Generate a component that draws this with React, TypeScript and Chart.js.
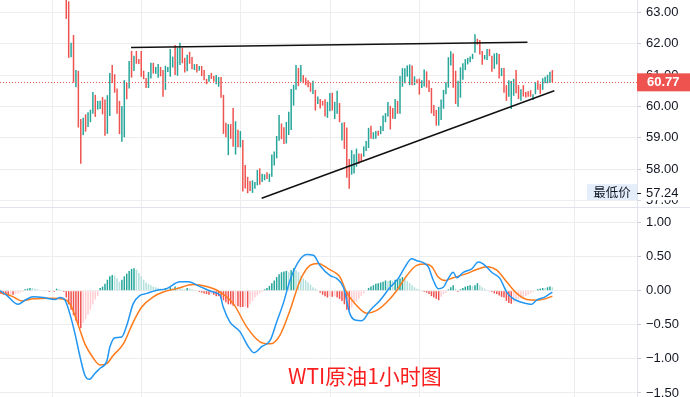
import { useEffect, useRef } from "react";
import { Chart, registerables } from "chart.js";
Chart.register(...registerables);

// ---------- DATA ----------
// hourly candles (slot 0 .. 201), open / close
const candleOpen = [
  63.80, 63.35, 61.57, 62.28, 60.61, 61.14, 59.60, 59.09, 59.75, 59.35,
  59.50, 59.77, 60.37, 59.90, 59.92, 60.30, 60.22, 59.13, 59.70, 61.32,
  61.03, 60.57, 60.18, 58.88, 59.02, 60.75, 60.57, 61.77, 61.13, 61.77,
  61.51, 61.77, 61.14, 60.91, 60.59, 60.89, 61.39, 61.04, 60.92, 61.26,
  61.16, 60.53, 61.10, 60.95, 61.24, 61.96, 60.98, 61.32, 61.87, 61.55,
  61.12, 61.74, 61.58, 61.16, 61.35, 61.14, 61.29, 61.16, 60.88, 60.79,
  61.07, 60.97, 60.71, 60.63, 60.94, 60.37, 59.48, 58.45, 59.44, 59.95,
  58.47, 59.26, 58.70, 58.93, 58.14, 57.76, 57.63, 57.25, 57.38, 57.49,
  58.03, 57.60, 57.65, 57.91, 57.60, 57.76, 58.12, 58.35, 58.91, 59.46,
  59.34, 58.82, 59.09, 59.25, 60.03, 60.53, 61.23, 60.79, 61.00, 60.92,
  60.84, 60.76, 60.40, 60.53, 60.08, 60.24, 60.18, 60.23, 59.64, 59.85,
  60.44, 59.60, 59.77, 60.11, 58.92, 59.50, 59.33, 58.33, 57.83, 57.87,
  58.08, 58.50, 58.50, 58.40, 58.58, 58.68, 59.39, 58.96, 58.97, 59.23,
  59.12, 59.22, 59.50, 59.68, 60.02, 59.95, 59.60, 60.18, 59.77, 60.63,
  60.74, 60.95, 60.68, 61.31, 60.68, 60.87, 60.89, 60.59, 60.64, 61.12,
  60.84, 60.59, 60.05, 59.89, 59.39, 59.57, 59.93, 60.39, 60.60, 61.31,
  61.69, 61.14, 59.99, 60.28, 60.85, 61.16, 61.34, 61.41, 61.51, 61.71,
  62.16, 62.12, 61.77, 61.50, 61.48, 61.83, 61.62, 61.20, 61.34, 61.67,
  60.97, 61.23, 60.68, 60.31, 59.92, 60.34, 61.16, 60.68, 60.18, 60.68,
  60.46, 60.49, 60.52, 60.21, 60.39, 60.83, 60.72, 60.53, 60.74, 60.74,
  60.75, 61.16,
];
const candleClose = [
  62.79, 61.55, 62.03, 60.76, 61.16, 59.33, 58.18, 59.64, 59.20, 59.82,
  59.90, 60.46, 59.67, 60.18, 60.18, 59.75, 59.07, 60.36, 61.07, 60.75,
  60.44, 59.77, 59.12, 60.02, 60.84, 60.23, 61.45, 60.92, 61.62, 61.36,
  61.35, 60.95, 60.87, 60.59, 61.10, 61.39, 61.05, 61.26, 61.35, 60.96,
  60.31, 61.30, 61.26, 61.83, 61.59, 61.00, 61.87, 62.03, 61.38, 61.08,
  61.65, 61.36, 61.19, 61.35, 61.08, 61.29, 60.97, 60.84, 60.71, 61.00,
  60.88, 60.79, 61.00, 60.94, 60.28, 59.13, 59.02, 59.44, 58.97, 58.72,
  59.53, 58.70, 59.22, 57.29, 57.39, 57.24, 57.31, 57.65, 57.60, 57.98,
  57.51, 57.86, 57.84, 57.69, 57.86, 58.47, 58.57, 59.06, 59.73, 58.96,
  58.81, 59.51, 59.83, 60.56, 60.69, 61.32, 60.65, 61.32, 60.74, 60.68,
  60.61, 60.47, 60.82, 59.87, 60.32, 59.94, 60.03, 59.68, 60.15, 60.43,
  59.87, 60.15, 60.50, 59.50, 59.48, 58.65, 57.73, 57.38, 58.61, 58.48,
  58.66, 58.18, 58.26, 58.73, 58.90, 59.32, 58.97, 59.18, 59.22, 59.07,
  59.38, 59.71, 59.79, 60.14, 59.27, 59.61, 60.24, 59.77, 60.97, 61.22,
  61.22, 61.31, 61.34, 60.68, 60.96, 60.74, 60.38, 60.84, 61.18, 60.60,
  60.46, 59.78, 59.70, 59.39, 59.99, 60.22, 60.53, 60.77, 61.57, 61.76,
  60.60, 60.08, 60.82, 61.25, 61.38, 61.51, 61.55, 61.59, 61.68, 62.30,
  61.97, 61.66, 61.33, 61.64, 61.83, 61.60, 61.11, 61.69, 61.71, 60.89,
  61.23, 60.44, 60.18, 60.84, 60.81, 60.88, 60.42, 60.24, 60.55, 60.32,
  60.29, 60.31, 60.31, 60.39, 60.77, 60.53, 60.40, 60.90, 60.95, 61.01,
  61.11, 60.77,
];

// MACD histogram, one bar per slot starting at slot -27
const histStartSlot = -27;
const macdHist = [
  -0.05, -0.06, -0.06, -0.07, -0.06, -0.06, -0.05, -0.04, -0.03, -0.02,
  0.02, 0.03, 0.04, 0.04, 0.03,
  0.02, 0.01, 0.005, -0.01, -0.01, -0.02, -0.01, -0.02,
  0.03, 0.02, 0.01,
  -0.02,
  -0.1, -0.2, -0.28, -0.36, -0.44, -0.5, -0.55,
  -0.47, -0.42, -0.35, -0.28, -0.2, -0.13, -0.08,
  0.04, 0.06, 0.1, 0.16, 0.21, 0.23, 0.22, 0.18, 0.13, 0.16, 0.21, 0.25, 0.29, 0.32,
  0.33, 0.31, 0.26, 0.21, 0.16, 0.12, 0.1, 0.08, 0.06, 0.05, 0.04, 0.03, 0.02,
  0.04, 0.03, 0.05, 0.04, 0.06, 0.05, 0.04, 0.03, 0.02, 0.04, 0.03, 0.02, 0.01,
  -0.01, -0.02, -0.03, -0.04, -0.05, -0.06, -0.05, -0.06, -0.08,
  -0.08, -0.11, -0.14, -0.17, -0.2, -0.2, -0.22, -0.21, -0.23, -0.24, -0.24, -0.23, -0.25,
  -0.2, -0.15, -0.1, -0.07, -0.04, -0.02,
  0.02, 0.04, 0.07, 0.11, 0.15, 0.2, 0.24, 0.27, 0.28, 0.29, 0.27, 0.3, 0.33, 0.3,
  0.27, 0.22, 0.18, 0.15, 0.12, 0.09, 0.05, 0.03, 0.01,
  -0.03, -0.06, -0.08, -0.1, -0.08, -0.09, -0.08, -0.1, -0.12, -0.15, -0.2, -0.28, -0.29,
  -0.25, -0.2, -0.16, -0.12, -0.08, -0.04, -0.01,
  0.04, 0.06, 0.08, 0.1, 0.11, 0.12, 0.13, 0.15, 0.14, 0.15, 0.14, 0.16, 0.17, 0.18,
  0.2, 0.17, 0.14, 0.11, 0.08, 0.05, 0.03, 0.02, 0.01,
  -0.02, -0.03, -0.05, -0.08, -0.1, -0.12, -0.14, -0.09, -0.05, -0.03,
  0.02, 0.05, 0.08, 0.03,
  -0.02,
  0.02, 0.04, 0.06, 0.07, 0.08, 0.07, 0.08, 0.11, 0.08, 0.05, 0.03, 0.01,
  -0.01, -0.02, -0.04, -0.05, -0.07, -0.09, -0.1, -0.15, -0.18, -0.19,
  -0.16, -0.14, -0.13, -0.11, -0.09, -0.08, -0.06, -0.04, -0.02,
  -0.005,
  0.02, 0.03, 0.04, 0.04, 0.05, 0.06, 0.05,
];

// MACD (DIF) line samples
const difSlots = [
  -27.4, -24.6, -19.9, -17.1, -13.6, -9.5, -4.7, -2.6, -0.5, 1.5,
  3.6, 5.7, 7.7, 9.5, 11.9, 13.9, 16.7, 18.1, 20.1, 22.9,
  25.0, 27.7, 30.5, 33.3, 36.7, 41.5, 47.0, 50.5, 55.3, 60.8,
  63.6, 64.9, 67.7, 71.8, 75.3, 77.6, 80.8, 84.3, 87.0, 89.7,
  92.5, 95.9, 99.4, 102.2, 104.9, 109.1, 111.8, 114.6, 117.3, 119.4,
  122.2, 125.6, 129.8, 133.9, 137.3, 140.1, 142.8, 144.9, 147.6, 149.7,
  151.8, 153.8, 155.9, 158.0, 160.0, 161.5, 164.2, 167.7, 170.4, 172.5,
  175.9, 179.3, 182.1, 184.9, 188.3, 192.5, 194.5, 198.0, 201,
];
const difValues = [
  0.0, -0.07, -0.2, -0.14, -0.09, -0.1, -0.13, -0.1, -0.14, -0.34,
  -0.63, -0.97, -1.24, -1.30, -1.21, -1.14, -1.04, -0.82, -0.69, -0.68,
  -0.51, -0.19, -0.07, -0.04, 0.0, 0.03, 0.13, 0.13, 0.06, -0.02,
  -0.07, -0.24, -0.46, -0.6, -0.82, -0.91, -0.82, -0.73, -0.46, -0.19,
  0.15, 0.42, 0.53, 0.52, 0.37, 0.22, 0.18, 0.05, -0.34, -0.43,
  -0.44, -0.29, -0.14, 0.05, 0.18, 0.35, 0.47, 0.44, 0.41, 0.35,
  0.15, 0.03, 0.05, 0.18, 0.27, 0.19, 0.27, 0.32, 0.42, 0.39,
  0.27, 0.18, -0.02, -0.12, -0.17, -0.2, -0.14, -0.09, -0.02,
];
// signal (DEA) line samples
const deaSlots = [
  -27.4, -21.9, -18.4, -13.6, -6.7, -0.5, 2.2, 5.0, 7.7, 11.2,
  13.9, 16.7, 19.4, 23.6, 27.7, 31.2, 36.0, 40.1, 45.7, 52.5,
  58.1, 63.6, 69.1, 74.6, 80.1, 84.3, 88.4, 92.5, 96.7, 100.8,
  104.2, 108.4, 111.8, 113.2, 116.0, 119.4, 124.2, 128.4, 132.5, 136.6,
  140.8, 144.9, 148.4, 151.2, 153.8, 156.6, 160.0, 165.6, 169.7, 173.9,
  178.0, 182.1, 186.3, 190.4, 194.5, 198.0, 201,
];
const deaValues = [
  -0.02, -0.09, -0.15, -0.12, -0.11, -0.13, -0.24, -0.51, -0.78, -0.99,
  -1.09, -1.07, -0.95, -0.78, -0.46, -0.24, -0.09, -0.02, 0.03, 0.09,
  0.06, -0.02, -0.19, -0.53, -0.75, -0.78, -0.65, -0.29, 0.15, 0.37,
  0.40, 0.32, 0.25, 0.20, -0.03, -0.19, -0.33, -0.29, -0.17, 0.0,
  0.22, 0.37, 0.39, 0.35, 0.2, 0.15, 0.19, 0.25, 0.31, 0.35,
  0.30, 0.13, -0.04, -0.13, -0.14, -0.12, -0.08,
];

// drawn trend lines (slot, price)
const upperTrendSlots = [26.8, 190.7];
const upperTrendPrices = [61.88, 62.05];
const lowerTrendSlots = [80.8, 201.8];
const lowerTrendPrices = [57.08, 60.5];

const priceTicks = [57, 58, 59, 60, 61, 62, 63];
const macdTicks = [-1.5, -1, -0.5, 0, 0.5, 1];
const dayGridSlots = [-5.6, 31.2, 72.1, 109.1, 146.0, 210.1];
const titleText = "WTI原油1小时图";
const lowText = "最低价";

// ---------- STYLE ----------
const UP = "#26a69a";
const DOWN = "#ef5350";
const GRID = "#ededed";
const AXIS = "#e0e3eb";
const TEXT = "#131722";
const LABEL_FONT = '13px "Liberation Sans", Arial, sans-serif';
const X_MIN = -27.4;
const X_MAX = 236.0;
const AXIS_W = 53;

function xScale() {
  return {
    type: "linear" as const,
    min: X_MIN,
    max: X_MAX,
    offset: false,
    afterBuildTicks: (s: any) => {
      s.ticks = dayGridSlots.map((v) => ({ value: v }));
    },
    afterFit: (s: any) => {
      s.height = 0;
    },
    ticks: { display: false },
    grid: { color: GRID, drawTicks: false, offset: false },
    border: { display: false },
  };
}

function yScale(min: number, max: number, ticks: number[]) {
  return {
    type: "linear" as const,
    position: "right" as const,
    min,
    max,
    beginAtZero: false,
    afterBuildTicks: (s: any) => {
      s.ticks = ticks.map((v) => ({ value: v }));
    },
    afterFit: (s: any) => {
      s.width = AXIS_W;
    },
    ticks: { display: false },
    grid: { color: GRID, tickColor: "#c9cbd1", tickLength: 4, drawTicks: true },
    border: { color: AXIS, display: true },
  };
}

const fmt = (v: number) => (v < 0 ? "\u2212" + Math.abs(v).toFixed(2) : v.toFixed(2));

const topPlugin = {
  id: "topDecor",
  afterDatasetsDraw(chart: any) {
    const { ctx, chartArea, scales } = chart;
    const last = candleClose[candleClose.length - 1];
    const py = Math.round(scales.y.getPixelForValue(last)) + 0.5;
    ctx.save();
    ctx.strokeStyle = DOWN;
    ctx.lineWidth = 1;
    ctx.setLineDash([1, 2]);
    ctx.beginPath();
    ctx.moveTo(chartArea.left, py);
    ctx.lineTo(chartArea.right, py);
    ctx.stroke();
    ctx.restore();
  },
  afterDraw(chart: any) {
    const { ctx, chartArea, scales, width } = chart;
    const y = scales.y;
    const lx = chartArea.right + 9;
    ctx.save();
    ctx.font = LABEL_FONT;
    ctx.fillStyle = TEXT;
    ctx.textBaseline = "middle";
    ctx.textAlign = "left";
    for (const v of priceTicks) ctx.fillText(fmt(v), lx, y.getPixelForValue(v));

    // lowest price label
    const lowVal = Math.min(...candleOpen, ...candleClose);
    const ly = y.getPixelForValue(lowVal);
    ctx.fillStyle = "#e3eefa";
    ctx.fillRect(chartArea.right - 50, ly - 9, 50, 16);
    ctx.fillStyle = "#ffffff";
    ctx.fillRect(chartArea.right + 1, ly - 7.5, width - chartArea.right, 14.5);
    ctx.fillStyle = TEXT;
    ctx.font = '12.5px "Noto Sans CJK SC", sans-serif';
    ctx.textAlign = "center";
    ctx.fillText(lowText, chartArea.right - 25, ly - 1);
    ctx.textAlign = "left";
    ctx.font = LABEL_FONT;
    ctx.fillText(lowVal.toFixed(2), lx, ly);
    ctx.strokeStyle = TEXT;
    ctx.lineWidth = 1;
    ctx.beginPath();
    ctx.moveTo(chartArea.right, Math.round(ly) + 0.5);
    ctx.lineTo(chartArea.right + 4, Math.round(ly) + 0.5);
    ctx.stroke();

    // last price label
    const last = candleClose[candleClose.length - 1];
    const lastOpen = candleOpen[candleOpen.length - 1];
    const py = y.getPixelForValue(last);
    ctx.fillStyle = last >= lastOpen ? UP : DOWN;
    ctx.fillRect(chartArea.right, py - 9, width - chartArea.right, 18);
    ctx.fillStyle = "#ffffff";
    ctx.font = 'bold 13px "Liberation Sans", Arial, sans-serif';
    ctx.fillText(last.toFixed(2), lx + 1, py + 0.5);
    ctx.restore();
  },
};

const bottomPlugin = {
  id: "bottomDecor",
  afterDraw(chart: any) {
    const { ctx, chartArea, scales, width } = chart;
    const y = scales.y;
    ctx.save();
    ctx.font = LABEL_FONT;
    ctx.fillStyle = TEXT;
    ctx.textBaseline = "middle";
    ctx.textAlign = "left";
    for (const v of macdTicks) ctx.fillText(fmt(v), chartArea.right + 9, y.getPixelForValue(v));
    // panel separator
    ctx.strokeStyle = AXIS;
    ctx.lineWidth = 1;
    ctx.beginPath();
    ctx.moveTo(0, 0.5);
    ctx.lineTo(width, 0.5);
    ctx.stroke();
    // caption
    ctx.font = '21px "Noto Sans CJK SC", sans-serif';
    ctx.fillStyle = "#fa1e1e";
    ctx.textBaseline = "alphabetic";
    ctx.fillText(titleText, 288, 177);
    ctx.restore();
  },
};

export default function App() {
  const topRef = useRef<HTMLCanvasElement>(null);
  const botRef = useRef<HTMLCanvasElement>(null);

  useEffect(() => {
    const candleData = candleOpen.map((o, i) => ({ x: i, y: [o, candleClose[i]] }));
    const candleColors = candleOpen.map((o, i) => (candleClose[i] >= o ? UP : DOWN));

    const top = new Chart(topRef.current as HTMLCanvasElement, {
      type: "bar",
      data: {
        datasets: [
          {
            type: "line",
            data: upperTrendSlots.map((s, i) => ({ x: s, y: upperTrendPrices[i] })),
            borderColor: "#111111",
            borderWidth: 1.5,
            pointRadius: 0,
            order: 0,
          } as any,
          {
            type: "line",
            data: lowerTrendSlots.map((s, i) => ({ x: s, y: lowerTrendPrices[i] })),
            borderColor: "#111111",
            borderWidth: 1.5,
            pointRadius: 0,
            order: 0,
          } as any,
          {
            type: "bar",
            data: candleData as any,
            backgroundColor: candleColors,
            barThickness: 1.5,
            inflateAmount: 0,
            borderWidth: 0,
            order: 1,
          } as any,
        ],
      },
      options: {
        animation: false,
        responsive: false,
        events: [],
        layout: { padding: 0 },
        plugins: { legend: { display: false }, tooltip: { enabled: false } },
        scales: {
          x: xScale() as any,
          y: yScale(56.8, 63.392, priceTicks) as any,
        },
      },
      plugins: [topPlugin],
    });

    const histColors = macdHist.map((h, i) => {
      const prev = i > 0 ? macdHist[i - 1] : 0;
      if (h >= 0) return prev < h ? UP : "#b2dfdb";
      return prev < h ? "#ffcdd2" : DOWN;
    });

    const bottom = new Chart(botRef.current as HTMLCanvasElement, {
      type: "bar",
      data: {
        datasets: [
          {
            type: "line",
            data: difSlots.map((s, i) => ({ x: s, y: difValues[i] })),
            borderColor: "#2196f3",
            borderWidth: 1.5,
            pointRadius: 0,
            cubicInterpolationMode: "monotone",
            order: 0,
          } as any,
          {
            type: "line",
            data: deaSlots.map((s, i) => ({ x: s, y: deaValues[i] })),
            borderColor: "#ff7a1a",
            borderWidth: 1.5,
            pointRadius: 0,
            cubicInterpolationMode: "monotone",
            order: 0,
          } as any,
          {
            type: "bar",
            data: macdHist.map((h, i) => ({ x: histStartSlot + i, y: h })) as any,
            backgroundColor: histColors,
            barThickness: 1.5,
            inflateAmount: 0,
            borderWidth: 0,
            order: 1,
          } as any,
        ],
      },
      options: {
        animation: false,
        responsive: false,
        events: [],
        layout: { padding: 0 },
        plugins: { legend: { display: false }, tooltip: { enabled: false } },
        scales: {
          x: xScale() as any,
          y: yScale(-1.559, 1.227, macdTicks) as any,
        },
      },
      plugins: [bottomPlugin],
    });

    return () => {
      top.destroy();
      bottom.destroy();
    };
  }, []);

  return (
    <div
      style={{
        position: "absolute",
        left: 0,
        top: 0,
        width: 690,
        height: 397,
        background: "#ffffff",
        overflow: "hidden",
      }}
    >
      <canvas
        ref={topRef}
        width={690}
        height={207}
        style={{ position: "absolute", left: 0, top: 0, width: 690, height: 207, display: "block" }}
      />
      <canvas
        ref={botRef}
        width={690}
        height={190}
        style={{ position: "absolute", left: 0, top: 207, width: 690, height: 190, display: "block" }}
      />
    </div>
  );
}
